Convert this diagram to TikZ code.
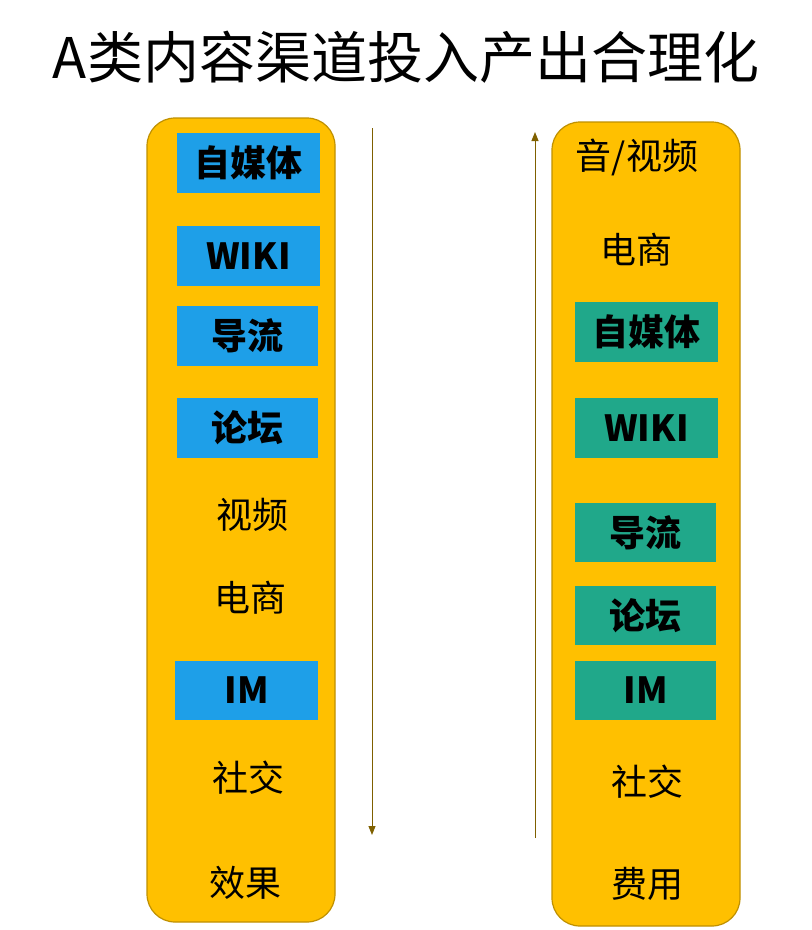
\documentclass[tikz,border=0pt]{standalone}
\usepackage{fontspec}
\setmainfont{Noto Sans CJK SC}
\usetikzlibrary{arrows.meta}
\definecolor{col}{HTML}{FFC000}
\definecolor{colb}{HTML}{BF9000}
\definecolor{blu}{HTML}{1E9FE8}
\definecolor{tea}{HTML}{20A88A}
\definecolor{arr}{HTML}{7F6000}
\tikzset{x=1pt,y=-1pt,
 column/.style={draw=colb,fill=col,line width=1.2pt,rounded corners=28pt},
 bbox/.style={fill=#1,inner sep=0pt,font=\fontsize{36}{40}\selectfont\bfseries},
 plain/.style={font=\fontsize{36}{40}\selectfont},
 flow/.style={draw=arr,line width=1pt,-{Triangle[length=9pt,width=7pt]}}}
\begin{document}
\begin{tikzpicture}
\useasboundingbox (0,0) rectangle (812,930);
\node[font=\fontsize{56}{60}\selectfont] (title) at (406,57) {A类内容渠道投入产出合理化};
\draw[column] (147,118) rectangle (335,922);
\draw[column] (552,122) rectangle (740,926);
\node[bbox=blu,minimum width=143pt,minimum height=60pt] (l1) at (248.5,163) {自媒体};
\node[bbox=blu,minimum width=143pt,minimum height=60pt] (l2) at (248.5,256) {WIKI};
\node[bbox=blu,minimum width=141pt,minimum height=60pt] (l3) at (247.5,336) {导流};
\node[bbox=blu,minimum width=141pt,minimum height=60pt] (l4) at (247.5,428) {论坛};
\node[plain] (l5) at (252,515) {视频};
\node[plain] (l6) at (250,598) {电商};
\node[bbox=blu,minimum width=143pt,minimum height=59pt] (l7) at (246.5,690.5) {IM};
\node[plain] (l8) at (248,778) {社交};
\node[plain] (l9) at (245,883) {效果};
\node[plain] (r1) at (637,157) {音/视频};
\node[plain] (r2) at (636,250) {电商};
\node[bbox=tea,minimum width=143pt,minimum height=60pt] (r3) at (646.5,332) {自媒体};
\node[bbox=tea,minimum width=143pt,minimum height=60pt] (r4) at (646.5,428) {WIKI};
\node[bbox=tea,minimum width=141pt,minimum height=59pt] (r5) at (645.5,532.5) {导流};
\node[bbox=tea,minimum width=141pt,minimum height=59pt] (r6) at (645.5,615.5) {论坛};
\node[bbox=tea,minimum width=141pt,minimum height=59pt] (r7) at (645.5,690.5) {IM};
\node[plain] (r8) at (647,782) {社交};
\node[plain] (r9) at (647,884) {费用};
\coordinate (a1) at (372,128); \coordinate (a2) at (372,835);
\coordinate (b1) at (535,838); \coordinate (b2) at (535,132);
\draw[flow] (a1) -- (a2);
\draw[flow] (b1) -- (b2);
\end{tikzpicture}
\end{document}
